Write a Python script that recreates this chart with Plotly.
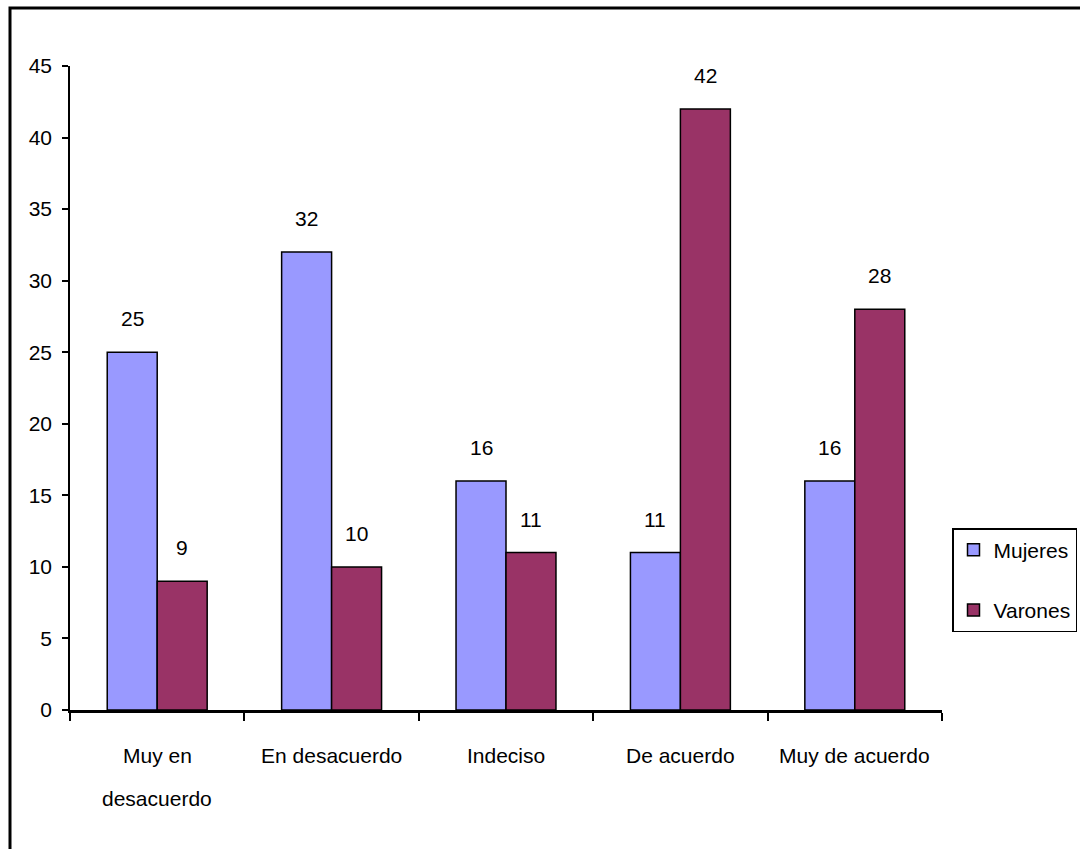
import plotly.graph_objects as go

categories = ["Muy en desacuerdo", "En desacuerdo", "Indeciso", "De acuerdo", "Muy de acuerdo"]
category_lines = [["Muy en", "desacuerdo"], ["En desacuerdo"], ["Indeciso"], ["De acuerdo"], ["Muy de acuerdo"]]
mujeres = [25, 32, 16, 11, 16]
varones = [9, 10, 11, 42, 28]

FONT = "Liberation Sans Narrow, Arial Narrow, Liberation Sans, Arial, sans-serif"

fig = go.Figure()
fig.add_trace(go.Bar(name="Mujeres", x=categories, y=mujeres, legendgroup="m",
                     marker=dict(color="#9999FF", line=dict(color="black", width=1.5))))
fig.add_trace(go.Bar(name="Varones", x=categories, y=varones, legendgroup="v",
                     marker=dict(color="#993366", line=dict(color="black", width=1.5))))

annotations = []
for vals, shift in ((mujeres, -25), (varones, 25)):
    for c, v in zip(categories, vals):
        annotations.append(dict(x=c, y=v, text=str(v), showarrow=False, xref="x", yref="y",
                                xshift=shift, yshift=20, yanchor="bottom",
                                font=dict(family=FONT, size=21, color="black")))
# category labels (tall line spacing as in the reference)
for c, lines in zip(categories, category_lines):
    for i, line in enumerate(lines):
        annotations.append(dict(x=c, y=0, text=line, showarrow=False, xref="x", yref="y",
                                yanchor="middle", yshift=-45 - 43 * i,
                                font=dict(family=FONT, size=21, color="black")))

L, R, T, B = 70, 138, 66, 139
W, H = 1080, 849
pw, ph = W - L - R, H - T - B

fig.update_layout(
    width=W, height=H,
    margin=dict(l=L, r=R, t=T, b=B, pad=0, autoexpand=False),
    paper_bgcolor="white", plot_bgcolor="white",
    barmode="group", bargap=0.427, bargroupgap=0,
    font=dict(family=FONT, size=20, color="black"),
    annotations=annotations,
    showlegend=True,
    legend=dict(x=(952 - L) / pw, y=(H - B - 580) / ph, xanchor="left", yanchor="middle",
                bordercolor="black", borderwidth=1.5, bgcolor="white",
                font=dict(family=FONT, size=21), itemwidth=30, tracegroupgap=30),
    shapes=[dict(type="rect", xref="paper", yref="paper",
                 x0=(10 - L) / pw, x1=(1090 - L) / pw,
                 y0=(H - B - 860) / ph, y1=(H - B - 8) / ph,
                 line=dict(color="black", width=3), fillcolor="rgba(0,0,0,0)", layer="above")],
)
fig.update_xaxes(showline=True, linecolor="black", linewidth=2.5, ticks="outside", ticklen=8,
                 tickcolor="black", tickwidth=1.5, tickson="boundaries", showgrid=False,
                 showticklabels=False)
fig.update_yaxes(range=[0, 45], dtick=5, showline=True, linecolor="black", linewidth=1.5,
                 ticks="outside", ticklen=6, tickcolor="black", tickwidth=1.5, showgrid=False,
                 zeroline=False, tickfont=dict(family=FONT, size=21), ticklabelstandoff=6)

fig.write_html("out.html", config={"displayModeBar": False},
               post_script="document.body.style.margin='0';document.body.style.overflow='hidden';")
